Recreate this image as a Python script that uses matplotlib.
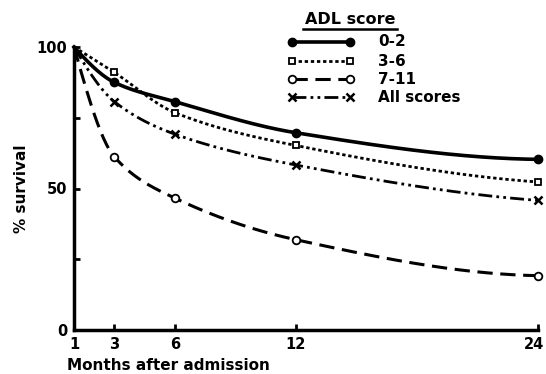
import numpy as np
import matplotlib
matplotlib.use("Agg")
import matplotlib.pyplot as plt
import matplotlib.transforms as mtransforms
from matplotlib.lines import Line2D

months = [1, 3, 6, 12, 24]
adl_0_2 = [100, 87.5, 80.7, 69.7, 60.3]
adl_3_6 = [100, 91.0, 76.8, 65.2, 52.3]
adl_7_11 = [100, 61.2, 46.6, 31.9, 19.2]
adl_all = [100, 80.7, 69.2, 58.3, 45.8]
legend_labels = ["0-2", "3-6", "7-11", "All scores"]
xtick_vals = [1, 3, 6, 12, 24]
ytick_vals = [0, 25, 50, 75, 100]
ytick_labels = ["0", "", "50", "", "100"]

plt.rcParams['font.family'] = ['DejaVu Sans']
plt.rcParams['font.weight'] = 'bold'


def pchip(x, y, xs):
    x = np.asarray(x, float); y = np.asarray(y, float)
    h = np.diff(x); d = np.diff(y) / h
    n = len(x); m = np.zeros(n)
    for k in range(1, n - 1):
        if d[k - 1] * d[k] > 0:
            w1 = 2 * h[k] + h[k - 1]; w2 = h[k] + 2 * h[k - 1]
            m[k] = (w1 + w2) / (w1 / d[k - 1] + w2 / d[k])
    m[0] = ((2 * h[0] + h[1]) * d[0] - h[0] * d[1]) / (h[0] + h[1])
    if np.sign(m[0]) != np.sign(d[0]):
        m[0] = 0
    m[-1] = ((2 * h[-1] + h[-2]) * d[-1] - h[-1] * d[-2]) / (h[-1] + h[-2])
    if np.sign(m[-1]) != np.sign(d[-1]):
        m[-1] = 0
    out = np.empty_like(xs)
    for i, xv in enumerate(xs):
        k = min(np.searchsorted(x, xv, side='right') - 1, n - 2)
        t = (xv - x[k]) / h[k]
        h00 = 2 * t**3 - 3 * t**2 + 1; h10 = t**3 - 2 * t**2 + t
        h01 = -2 * t**3 + 3 * t**2; h11 = t**3 - t**2
        out[i] = h00 * y[k] + h10 * h[k] * m[k] + h01 * y[k + 1] + h11 * h[k] * m[k + 1]
    return out


fig = plt.figure(figsize=(5.46, 3.74), dpi=100)
ax = fig.add_axes([74 / 546, 1 - 330 / 374, (538 - 74) / 546, (330 - 47) / 374])

styles = [
    dict(ls='-', lw=2.6, marker='o', ms=6, mfc='black', mec='black'),
    dict(ls=(0, (1.2, 1.0)), lw=2.0, marker='s', ms=5, mfc='white', mec='black', mew=1.3),
    dict(ls=(0, (5, 2.5)), lw=2.2, marker='o', ms=5.5, mfc='white', mec='black', mew=1.3),
    dict(ls=(0, (5, 1.5, 1, 1.5, 1, 1.5)), lw=2.0, marker='x', ms=5.5, mfc='black', mec='black', mew=1.8),
]
series = [adl_0_2, adl_3_6, adl_7_11, adl_all]
xs = np.linspace(1, 24, 300)
for ys, st in zip(series, styles):
    ax.plot(xs, pchip(months, ys, xs), color='black', ls=st['ls'], lw=st['lw'], clip_on=False,
            dash_capstyle='butt')
    ax.plot(months[1:], ys[1:], ls='none', marker=st['marker'], ms=st['ms'],
            mfc=st['mfc'], mec=st['mec'], mew=st.get('mew', 1), clip_on=False, zorder=5)

ax.set_xlim(1, 24)
ax.set_ylim(0, 100)
ax.set_xticks(xtick_vals)
ax.set_xticklabels([str(v) for v in xtick_vals], fontsize=10.5, fontweight='bold')
ax.set_yticks(ytick_vals)
ax.set_yticklabels(ytick_labels, fontsize=10.5, fontweight='bold')
ax.tick_params(direction='in', length=4, width=2, pad=5)
for s in ['top', 'right']:
    ax.spines[s].set_visible(False)
for s in ['left', 'bottom']:
    ax.spines[s].set_linewidth(2.5)

# keep last x tick label inside the canvas
last = ax.get_xticklabels()[-1]
last.set_transform(last.get_transform() + mtransforms.ScaledTranslation(-4 / 100, 0, fig.dpi_scale_trans))

fig.text(22 / 546, 1 - 189 / 374, '% survival', rotation=90, ha='center', va='center',
         fontsize=11, fontweight='bold')
fig.text(67 / 546, 1 - 365 / 374, 'Months after admission', ha='left', va='center',
         fontsize=11, fontweight='bold')

# Legend drawn manually
tr = fig.transFigure
fig.text(350 / 546, 1 - 20 / 374, 'ADL score', ha='center', va='center', fontsize=11.5,
         fontweight='bold')
fig.add_artist(Line2D([303 / 546, 397 / 546], [1 - 29 / 374] * 2, color='black', lw=1.8,
                      transform=tr))
rows_y = [42, 61, 79, 97]
for lab, st, yy in zip(legend_labels, styles, rows_y):
    yf = 1 - yy / 374
    fig.add_artist(Line2D([292 / 546, 350 / 546], [yf, yf], color='black', ls=st['ls'],
                          lw=st['lw'], transform=tr))
    fig.add_artist(Line2D([292 / 546, 350 / 546], [yf, yf], ls='none', marker=st['marker'],
                          ms=st['ms'], mfc=st['mfc'], mec=st['mec'], mew=st.get('mew', 1),
                          transform=tr))
    fig.text(378 / 546, yf, lab, ha='left', va='center', fontsize=11, fontweight='bold')

fig.savefig('out.png', dpi=100)
